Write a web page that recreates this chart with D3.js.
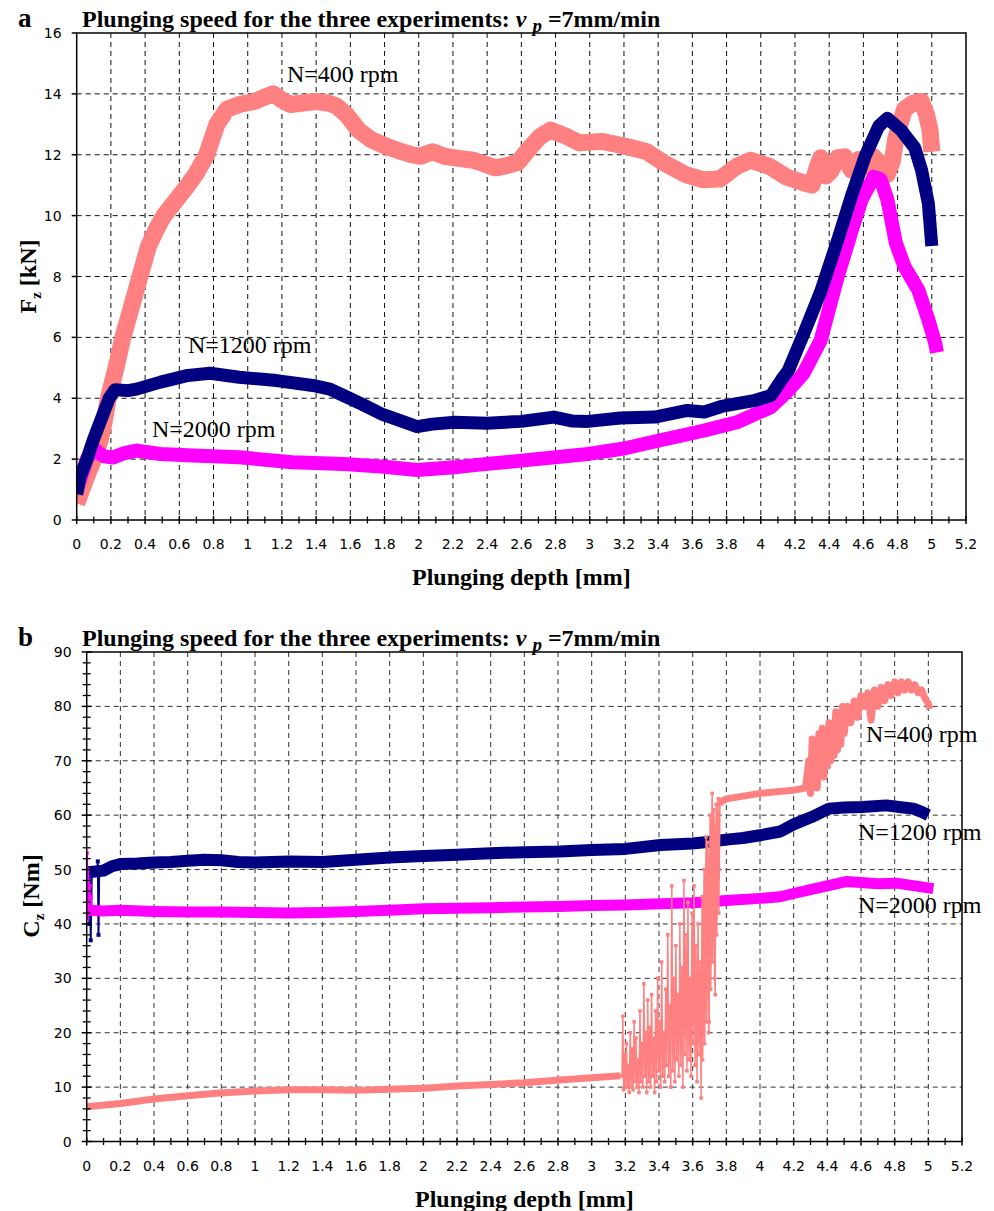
<!DOCTYPE html>
<html><head><meta charset="utf-8">
<script src="https://cdn.jsdelivr.net/npm/d3@7"></script>
<style>html,body{margin:0;padding:0;background:#fff;}svg{display:block;}</style>
</head><body>
<svg id="chart" width="994" height="1211"></svg>
<script>
// ---------------- DATA ----------------
const xTickVals = [0,0.2,0.4,0.6,0.8,1,1.2,1.4,1.6,1.8,2,2.2,2.4,2.6,2.8,3,3.2,3.4,3.6,3.8,4,4.2,4.4,4.6,4.8,5,5.2];
const xTickLabels = ["0","0.2","0.4","0.6","0.8","1","1.2","1.4","1.6","1.8","2","2.2","2.4","2.6","2.8","3","3.2","3.4","3.6","3.8","4","4.2","4.4","4.6","4.8","5","5.2"];
const yTicksA = [0,2,4,6,8,10,12,14,16];
const yTicksB = [0,10,20,30,40,50,60,70,80,90];
const seriesNames = ["N=400 rpm","N=1200 rpm","N=2000 rpm"];

// Panel a: Fz [kN] vs plunging depth [mm]
const fz400 = [[0,0.55],[0.03,1.0],[0.07,1.6],[0.1,2.0],[0.136,2.6],[0.16,3.2],[0.185,4.0],[0.23,5.0],[0.27,6.0],[0.32,7.0],[0.37,8.0],[0.42,9.0],[0.47,9.6],[0.51,10.0],[0.58,10.5],[0.65,11.0],[0.7,11.4],[0.76,12.0],[0.82,13.0],[0.88,13.5],[0.95,13.65],[1.04,13.75],[1.1,13.9],[1.15,14.0],[1.2,13.8],[1.25,13.65],[1.32,13.7],[1.4,13.75],[1.47,13.7],[1.52,13.6],[1.58,13.3],[1.65,12.8],[1.72,12.5],[1.8,12.3],[1.9,12.1],[1.96,12.0],[2.01,11.95],[2.08,12.1],[2.15,11.95],[2.21,11.9],[2.32,11.82],[2.45,11.57],[2.52,11.65],[2.58,11.75],[2.65,12.23],[2.71,12.6],[2.77,12.81],[2.86,12.61],[2.94,12.39],[3.07,12.44],[3.21,12.28],[3.33,12.11],[3.44,11.71],[3.56,11.35],[3.66,11.18],[3.76,11.2],[3.86,11.62],[3.94,11.82],[4.05,11.62],[4.15,11.27],[4.25,11.08],[4.3,11.0],[4.33,11.6],[4.35,11.9],[4.38,11.3],[4.41,11.46],[4.45,11.9],[4.49,11.93],[4.53,11.5],[4.57,11.84],[4.62,11.6],[4.66,11.93],[4.7,11.7],[4.74,11.35],[4.77,11.8],[4.79,12.55],[4.84,13.49],[4.89,13.7],[4.94,13.75],[4.97,13.3],[4.99,12.8],[5.0,12.1]];
const fz1200 = [[0,0.85],[0.02,1.42],[0.06,2.0],[0.097,2.63],[0.156,3.5],[0.19,4.0],[0.224,4.28],[0.3,4.25],[0.35,4.3],[0.49,4.53],[0.65,4.75],[0.78,4.82],[0.95,4.69],[1.17,4.58],[1.38,4.42],[1.48,4.3],[1.56,4.09],[1.67,3.8],[1.78,3.49],[1.9,3.25],[1.99,3.07],[2.08,3.15],[2.21,3.21],[2.4,3.18],[2.6,3.24],[2.79,3.38],[2.9,3.25],[2.99,3.24],[3.18,3.35],[3.38,3.38],[3.57,3.6],[3.67,3.55],[3.77,3.73],[3.96,3.92],[4.06,4.09],[4.12,4.6],[4.16,4.9],[4.25,6.1],[4.35,7.5],[4.45,9.2],[4.53,10.64],[4.61,11.95],[4.69,12.94],[4.74,13.2],[4.82,12.81],[4.9,12.23],[4.94,11.5],[4.98,10.4],[5.0,9.0]];
const fz2000 = [[0,1.0],[0.03,1.5],[0.06,2.0],[0.097,2.36],[0.13,2.2],[0.156,2.1],[0.21,2.05],[0.28,2.2],[0.35,2.28],[0.49,2.17],[0.68,2.12],[0.95,2.06],[1.26,1.9],[1.56,1.84],[1.8,1.75],[1.99,1.64],[2.21,1.73],[2.34,1.81],[2.6,1.95],[2.99,2.17],[3.2,2.35],[3.38,2.58],[3.67,2.94],[3.86,3.21],[4.06,3.71],[4.16,4.25],[4.25,4.82],[4.35,5.9],[4.45,8.0],[4.53,9.48],[4.59,10.53],[4.66,11.27],[4.7,11.2],[4.74,10.53],[4.79,9.1],[4.84,8.33],[4.92,7.57],[4.98,6.58],[5.02,5.81],[5.03,5.5]];

// Panel b: Cz [Nm] vs plunging depth [mm]
const cz400Start = [[0,6.4],[0.2,7.0],[0.4,7.8],[0.6,8.4],[0.79,8.9],[1.0,9.3],[1.2,9.5],[1.4,9.5],[1.6,9.4],[1.8,9.6],[2.0,9.8],[2.2,10.2],[2.4,10.5],[2.6,10.8],[2.81,11.3],[3.0,11.7],[3.17,12.1]];
const cz400Noise = [[3.17,12.1],[3.180,12],[3.185,23],[3.190,9.5],[3.196,16],[3.201,10],[3.206,18],[3.212,10],[3.218,14],[3.223,9],[3.229,20],[3.235,10],[3.240,17],[3.246,9.5],[3.252,22],[3.258,11],[3.263,19],[3.269,10],[3.275,15],[3.281,9],[3.287,24],[3.292,11],[3.298,18],[3.304,10],[3.310,29],[3.316,12],[3.321,20],[3.327,9],[3.333,26],[3.339,11],[3.345,21],[3.350,10],[3.356,27],[3.362,12],[3.368,19],[3.374,9],[3.380,24],[3.386,11],[3.392,30],[3.398,13],[3.404,22],[3.410,10],[3.416,33],[3.422,12],[3.428,20],[3.434,11],[3.440,28],[3.446,14],[3.452,38],[3.458,12],[3.464,25],[3.470,10],[3.476,47],[3.482,13],[3.488,30],[3.494,11],[3.500,36],[3.506,15],[3.512,27],[3.518,12],[3.524,40],[3.530,14],[3.536,32],[3.542,10],[3.548,48],[3.554,16],[3.560,38],[3.566,13],[3.572,44],[3.578,15],[3.584,30],[3.590,12],[3.596,42],[3.602,18],[3.608,47],[3.614,14],[3.620,36],[3.626,11],[3.632,40],[3.638,16],[3.644,33],[3.650,8],[3.653,30],[3.656,45],[3.659,15],[3.662,20],[3.665,42],[3.668,50],[3.671,18],[3.674,25],[3.677,48],[3.680,56],[3.683,22],[3.686,30],[3.689,55],[3.692,52],[3.695,20],[3.698,22],[3.701,50],[3.704,60],[3.707,28],[3.710,35],[3.713,58],[3.716,64],[3.719,33],[3.722,40],[3.725,61],[3.728,58],[3.731,30],[3.734,27],[3.737,55],[3.740,62],[3.743,38],[3.746,45],[3.749,60],[3.752,63],[3.755,42],[3.758,50],[3.762,62]];
const cz400End = [[3.762,62],[3.77,62.5],[3.8,63],[3.9,63.5],[4.0,64],[4.1,64.3],[4.2,64.6],[4.27,65],[4.29,70],[4.30,64],[4.31,74],[4.32,66],[4.33,72],[4.34,65],[4.35,75],[4.36,68],[4.37,76],[4.38,67],[4.39,74],[4.40,69],[4.41,77],[4.42,70],[4.43,76],[4.44,71],[4.45,79],[4.46,72],[4.47,78],[4.48,73],[4.49,80],[4.50,75],[4.52,80],[4.54,77],[4.56,81],[4.58,78],[4.60,82],[4.62,80],[4.64,82.5],[4.66,77.5],[4.68,83],[4.70,80],[4.72,83.5],[4.74,81],[4.76,84],[4.78,82],[4.80,84.5],[4.82,82.5],[4.84,84.5],[4.86,83],[4.88,84.5],[4.90,83],[4.92,84],[4.94,82.5],[4.96,83],[4.98,81.5],[5.0,80.5],[5.01,79.5]];
const cz1200Start = [[0,50],[0.008,44],[0.012,49],[0.016,40],[0.02,50],[0.024,37],[0.03,49],[0.04,50],[0.05,49],[0.06,49],[0.066,51.5],[0.07,38],[0.074,49],[0.08,50]];
const cz1200 = [[0.01,49.5],[0.1,49.8],[0.15,50.6],[0.2,51],[0.3,51.1],[0.4,51.3],[0.5,51.4],[0.6,51.6],[0.7,51.8],[0.8,51.7],[0.9,51.4],[1.0,51.3],[1.1,51.4],[1.2,51.5],[1.4,51.4],[1.6,51.8],[1.8,52.2],[2.0,52.5],[2.2,52.7],[2.4,53],[2.6,53.2],[2.81,53.3],[3.0,53.6],[3.2,53.8],[3.41,54.5],[3.6,54.8],[3.7,55.1],[3.8,55.5],[3.9,55.8],[4.0,56.3],[4.12,57],[4.2,58.3],[4.31,59.7],[4.41,61.2],[4.5,61.4],[4.61,61.5],[4.75,61.8],[4.85,61.4],[4.91,61.2],[4.96,60.6],[5.0,60]];
const cz2000Start = [[0,53],[0.003,41],[0.006,50],[0.009,44],[0.012,48],[0.015,42],[0.018,47],[0.021,43],[0.024,45],[0.03,42]];
const cz2000 = [[0.01,42.5],[0.1,42.4],[0.2,42.5],[0.4,42.3],[0.6,42.2],[0.8,42.2],[1.0,42.1],[1.2,42],[1.4,42.1],[1.6,42.3],[1.8,42.5],[2.0,42.8],[2.2,42.9],[2.4,43],[2.6,43.1],[2.81,43.2],[3.0,43.4],[3.2,43.5],[3.41,43.7],[3.6,43.9],[3.8,44.3],[4.0,44.7],[4.12,45],[4.2,45.6],[4.3,46.3],[4.4,47],[4.51,47.8],[4.6,47.6],[4.7,47.4],[4.81,47.5],[4.9,47.1],[5.03,46.5]];

// ---------------- DRAW ----------------
const C400 = "#FF8080", C1200 = "#000080", C2000 = "#FF00FF";
const svg = d3.select("#chart");
const SERIF = "'Liberation Serif','Times New Roman',serif";
const SANS = "'DejaVu Sans',sans-serif";

const xA = d3.scaleLinear([0,5.2],[76.7,966]);
const yA = d3.scaleLinear([0,16],[520,33]);
const xB = d3.scaleLinear([0,5.2],[86.7,962]);
const yB = d3.scaleLinear([0,90],[1141.5,652]);

function frame(g, x, y, yTicks, gridColor, clipId) {
  const [x0,x1] = x.range(), [yb,yt] = y.range();
  g.append("g").selectAll("line").data(xTickVals.slice(1, -1)).join("line")
    .attr("x1", d=>x(d)).attr("x2", d=>x(d)).attr("y1", yt).attr("y2", yb)
    .attr("stroke", gridColor).attr("stroke-width", 1).attr("stroke-dasharray", "5,4");
  g.append("g").selectAll("line").data(yTicks.slice(1, -1)).join("line")
    .attr("x1", x0).attr("x2", x1).attr("y1", d=>y(d)).attr("y2", d=>y(d))
    .attr("stroke", gridColor).attr("stroke-width", 1).attr("stroke-dasharray", "5,4");
  svg.append("clipPath").attr("id", clipId).append("rect")
    .attr("x", x0).attr("y", yt).attr("width", x1-x0).attr("height", yb-yt);
}

function axes(g, x, y, yTicks, yMinor, yTickBoth) {
  const [x0,x1] = x.range(), [yb,yt] = y.range();
  g.append("rect").attr("x", x0).attr("y", yt).attr("width", x1-x0).attr("height", yb-yt)
    .attr("fill","none").attr("stroke","#000").attr("stroke-width",1.5);
  const minor = d3.range(0.1, 5.2, 0.2);
  g.append("g").selectAll("line").data(xTickVals).join("line")
    .attr("x1", d=>x(d)).attr("x2", d=>x(d)).attr("y1", yb-4).attr("y2", yb+4)
    .attr("stroke","#000").attr("stroke-width",1.5);
  g.append("g").selectAll("line").data(minor).join("line")
    .attr("x1", d=>x(d)).attr("x2", d=>x(d)).attr("y1", yb-3.5).attr("y2", yb+3.5)
    .attr("stroke","#000").attr("stroke-width",1.3);
  g.append("g").selectAll("text").data(xTickVals).join("text")
    .attr("x", d=>x(d)).attr("y", yb+29).attr("text-anchor","middle")
    .attr("font-family", SANS).attr("font-size", 14).attr("fill","#000")
    .text((d,i)=>xTickLabels[i]);
  g.append("g").selectAll("line").data(yTicks).join("line")
    .attr("x1", x0-5).attr("x2", yTickBoth ? x0+5 : x0).attr("y1", d=>y(d)).attr("y2", d=>y(d))
    .attr("stroke","#000").attr("stroke-width",1.5);
  if (yMinor) g.append("g").selectAll("line").data(yMinor).join("line")
    .attr("x1", x0-4).attr("x2", x0+4).attr("y1", d=>y(d)).attr("y2", d=>y(d))
    .attr("stroke","#000").attr("stroke-width",1.3);
  g.append("g").selectAll("text").data(yTicks).join("text")
    .attr("x", x0-15).attr("y", d=>y(d)).attr("dy","0.36em").attr("text-anchor","end")
    .attr("font-family", SANS).attr("font-size", 14).attr("fill","#000")
    .text(d=>String(d));
  g.append("text").attr("x", (x0+x1)/2).attr("y", yb+65).attr("text-anchor","middle")
    .attr("font-family", SERIF).attr("font-weight","bold").attr("font-size", 24)
    .text("Plunging depth [mm]");
}

function title(letter, baseY, x0) {
  svg.append("text").attr("x", 18).attr("y", baseY).attr("font-family", SERIF)
    .attr("font-weight","bold").attr("font-size", 27).text(letter);
  const t = svg.append("text").attr("x", x0).attr("y", baseY).attr("font-family", SERIF)
    .attr("font-weight","bold").attr("font-size", 24);
  t.append("tspan").text("Plunging speed for the three experiments: ");
  t.append("tspan").attr("font-style","italic").text("v");
  t.append("tspan").text(" ");
  t.append("tspan").attr("font-style","italic").attr("font-size",19).attr("dy",5).text("p");
  t.append("tspan").attr("dy",-5).text(" =7mm/min");
}

function ytitle(cx, cy, main, sub, rest) {
  const t = svg.append("text").attr("transform", `translate(${cx},${cy}) rotate(-90)`)
    .attr("text-anchor","middle").attr("font-family", SERIF).attr("font-weight","bold").attr("font-size", 24);
  t.append("tspan").text(main);
  t.append("tspan").attr("font-size",15).attr("dy",5).text(sub);
  t.append("tspan").attr("dy",-5).text(rest);
}

function band(g, data, x, y, color, w) {
  g.append("path").datum(data).attr("d", d3.line().x(d=>x(d[0])).y(d=>y(d[1])))
    .attr("fill","none").attr("stroke",color).attr("stroke-width",w)
    .attr("stroke-linejoin","round").attr("stroke-linecap","butt");
}
function noisy(g, data, x, y, color, w, m) {
  g.append("path").datum(data).attr("d", d3.line().x(d=>x(d[0])).y(d=>y(d[1])))
    .attr("fill","none").attr("stroke",color).attr("stroke-width",w).attr("stroke-linejoin","round");
  g.append("g").selectAll("rect").data(data).join("rect")
    .attr("x", d=>x(d[0])-m/2).attr("y", d=>y(d[1])-m/2).attr("width", m).attr("height", m)
    .attr("fill", color);
}

// ----- Panel a -----
const gA = svg.append("g");
frame(gA, xA, yA, yTicksA, "#111", "clipA");
const dA = gA.append("g").attr("clip-path","url(#clipA)");
band(dA, fz400, xA, yA, C400, 17);
band(dA, fz2000, xA, yA, C2000, 14);
band(dA, fz1200, xA, yA, C1200, 13);
axes(gA, xA, yA, yTicksA, null, false);
title("a", 26.5, 82);
ytitle(36, 276.5, "F", "z", " [kN]");
const labA = [[287,82],[188,353],[152,436.5]];
labA.forEach((p,i)=> svg.append("text").attr("x",p[0]).attr("y",p[1]).attr("font-family",SERIF)
  .attr("font-size",24).text(seriesNames[i]));

// ----- Panel b -----
const gB = svg.append("g");
const yMinorB = d3.range(2, 90, 2).filter(v => v % 10 !== 0);
frame(gB, xB, yB, yTicksB, "#333", "clipB");
const dB = gB.append("g").attr("clip-path","url(#clipB)");
band(dB, cz1200, xB, yB, C1200, 12);
noisy(dB, cz1200Start, xB, yB, C1200, 2, 4);
band(dB, cz2000, xB, yB, C2000, 11);
noisy(dB, cz2000Start, xB, yB, C2000, 2.5, 4);
band(dB, cz400Start, xB, yB, C400, 7);
noisy(dB, cz400Noise, xB, yB, C400, 1.5, 3.5);
band(dB, cz400End, xB, yB, C400, 7);
axes(gB, xB, yB, yTicksB, yMinorB, true);
title("b", 645.5, 82);
ytitle(39, 896, "C", "z", " [Nm]");
const labB = [[866,741.5],[858,840],[858,913]];
labB.forEach((p,i)=> svg.append("text").attr("x",p[0]).attr("y",p[1]).attr("font-family",SERIF)
  .attr("font-size",24).text(seriesNames[i]));
</script>
</body></html>
